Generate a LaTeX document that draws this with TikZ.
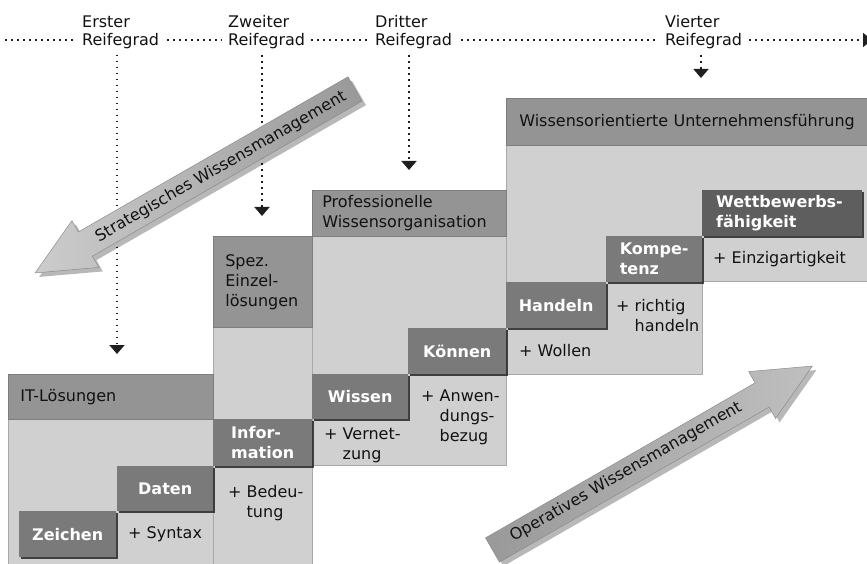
\documentclass[tikz,border=0pt]{standalone}
\usepackage{fontspec}
\setmainfont{DejaVu Sans}
\usetikzlibrary{arrows.meta,shadows}

\definecolor{hdrgray}{gray}{0.58}
\definecolor{bodygray}{gray}{0.815}
\definecolor{stepgray}{gray}{0.48}
\definecolor{topgray}{gray}{0.37}
\definecolor{edgegray}{gray}{0.66}
\definecolor{txt}{gray}{0.07}
\definecolor{dotgray}{gray}{0.12}

\tikzset{
  every node/.style={font=\fontsize{16}{20}\selectfont, text=txt},
  region/.style={fill=bodygray, draw=edgegray, line width=0.8pt},
  hdrbox/.style={fill=hdrgray, draw=hdrgray!85!black, line width=0.6pt,
    anchor=north west, inner sep=0pt, align=left},
  stepbox/.style={fill=stepgray, anchor=north west, inner sep=0pt, text=white,
    font=\fontsize{16}{20}\selectfont\bfseries, align=left,
    drop shadow={shadow xshift=1.6pt, shadow yshift=-1.6pt, opacity=0.85, fill=black!85}},
  addtext/.style={anchor=west, align=left, inner sep=0pt},
  toplab/.style={fill=white, align=left, inner xsep=6pt, inner ysep=1pt,
    anchor=west, font=\fontsize{16}{18}\selectfont},
  hdot/.style={draw=dotgray, line width=1.8pt, dash pattern=on 1.8pt off 4.2pt},
  vdot/.style={hdot, -{Triangle[width=15pt,length=9pt]}},
  bigarrow/.style={draw=black!45, line width=0.5pt},
  arrowshadow/.style={fill=black, opacity=0.28},
}

\begin{document}
\begin{tikzpicture}[x=1pt, y=-1pt]
\useasboundingbox (0,0) rectangle (867,564);

% ---------- level bodies ----------
\path[region] (8,419) rectangle (213,572);
\path[region] (213,327) rectangle (312,572);
\path[region] (312,236) rectangle (506,465);
\path[region] (506,145) -- (872,145) -- (872,281) -- (702,281) -- (702,374) -- (506,374) -- cycle;

% ---------- headers ----------
\node[hdrbox, minimum width=205pt, minimum height=45pt, text width=181pt] (it) at (8,374) {IT-Lösungen};
\node[hdrbox, minimum width=99pt, minimum height=91pt, text width=75pt] (spez) at (213,236) {Spez.\\Einzel-\\lösungen};
\node[hdrbox, minimum width=194pt, minimum height=46pt, text width=174pt] (prof) at (312,190) {Professionelle\\Wissensorganisation};
\node[hdrbox, minimum width=366pt, minimum height=47pt, text width=340pt] (wuf) at (506,98) {Wissensorientierte Unternehmensführung};

% ---------- steps ----------
\node[stepbox, minimum width=97pt, minimum height=46pt] (zeichen) at (19,511) {Zeichen};
\node[stepbox, minimum width=96pt, minimum height=45pt] (daten) at (117,466) {Daten};
\node[stepbox, minimum width=99pt, minimum height=47pt] (info) at (213,419) {Infor-\\mation};
\node[stepbox, minimum width=96pt, minimum height=45pt] (wissen) at (312,374) {Wissen};
\node[stepbox, minimum width=98pt, minimum height=46pt] (koennen) at (408,328) {Können};
\node[stepbox, minimum width=100pt, minimum height=46pt] (handeln) at (506,282) {Handeln};
\node[stepbox, minimum width=96pt, minimum height=46pt] (kompetenz) at (606,236) {Kompe-\\tenz};
\node[stepbox, fill=topgray, minimum width=160pt, minimum height=46pt, text width=132pt] (wettbewerb) at (702,190) {Wettbewerbs-\\fähigkeit};

% ---------- additions ----------
\node[addtext] (syntax) at (128,534) {+ Syntax};
\node[addtext] (bedeutung) at (228,503) {+ Bedeu-\\\phantom{+ }tung};
\node[addtext] (vernetzung) at (324,445) {+ Vernet-\\\phantom{+ }zung};
\node[addtext] (anwendung) at (421,417) {+ Anwen-\\\phantom{+ }dungs-\\\phantom{+ }bezug};
\node[addtext] (wollen) at (519,351) {+ Wollen};
\node[addtext] (richtig) at (616,316) {+ richtig\\\phantom{+ }handeln};
\node[addtext] (einzig) at (713,259) {+ Einzigartigkeit};

% ---------- top scale ----------
\coordinate (hstart) at (5,40);
\coordinate (hend) at (872,40);
\draw[hdot, -{Triangle[width=14pt,length=9pt]}] (hstart) -- (hend);

\node[toplab] (lab1) at (76,32) {Erster\\Reifegrad};
\node[toplab] (lab2) at (222,32) {Zweiter\\Reifegrad};
\node[toplab] (lab3) at (369,32) {Dritter\\Reifegrad};
\node[toplab] (lab4) at (659,32) {Vierter\\Reifegrad};

\coordinate (x1) at (117,0);
\coordinate (x2) at (262,0);
\coordinate (x3) at (409,0);
\coordinate (x4) at (701,0);
\draw[vdot, shorten <=5pt, shorten >=20pt] (lab1.south -| x1) -- (it.north -| x1);
\draw[vdot, shorten <=5pt, shorten >=20pt] (lab2.south -| x2) -- (spez.north -| x2);
\draw[vdot, shorten <=5pt, shorten >=20pt] (lab3.south -| x3) -- (prof.north -| x3);
\draw[vdot, shorten <=5pt, shorten >=20pt] (lab4.south -| x4) -- (wuf.north -| x4);

% ---------- big arrows ----------
% strategic (pointing down-left)
\begin{scope}[shift={(359,93)}, rotate=209.9]
  \fill[arrowshadow] (0,-14) -- (311,-14) -- (311,-27) -- (369,0) -- (311,27) -- (311,14) -- (0,14) -- cycle;
\end{scope}
\begin{scope}[shift={(355,89)}, rotate=209.9]
  \shade[bigarrow, left color=black!20, right color=black!40]
    (0,-14) -- (311,-14) -- (311,-27) -- (369,0) -- (311,27) -- (311,14) -- (0,14) -- cycle;
\end{scope}
\node[rotate=29.9] (strat) at (221,167) {Strategisches Wissensmanagement};

% operative (pointing up-right)
\begin{scope}[shift={(496.5,554)}, rotate=29.9]
  \fill[arrowshadow] (0,-14) -- (311,-14) -- (311,-27) -- (369,0) -- (311,27) -- (311,14) -- (0,14) -- cycle;
\end{scope}
\begin{scope}[shift={(492.5,550)}, rotate=29.9]
  \shade[bigarrow, left color=black!40, right color=black!25]
    (0,-14) -- (311,-14) -- (311,-27) -- (369,0) -- (311,27) -- (311,14) -- (0,14) -- cycle;
\end{scope}
\node[rotate=29.9] (oper) at (626,472) {Operatives Wissensmanagement};

\end{tikzpicture}
\end{document}
